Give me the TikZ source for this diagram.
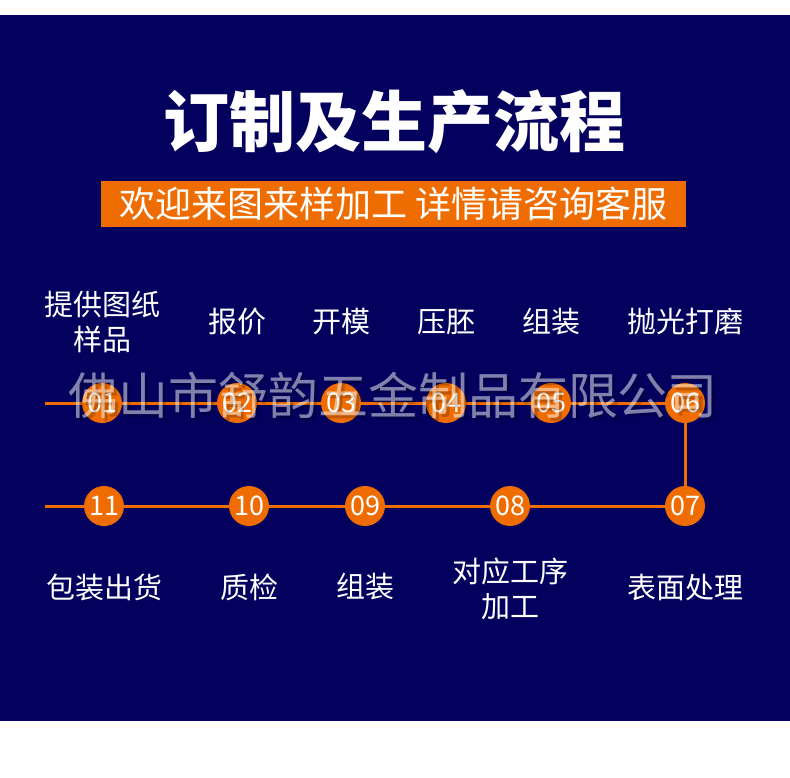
\documentclass[tikz,border=0pt]{standalone}
\usepackage{fontspec}
\setmainfont{Noto Sans CJK SC}
\usetikzlibrary{positioning, backgrounds}
\definecolor{Navy}{HTML}{03005E}
\definecolor{Orange}{HTML}{EF6C00}
\tikzset{
    numdot/.style={circle, fill=Orange, text=white, minimum size=40pt, inner sep=0pt, font=\fontsize{27}{27}\selectfont},
    steplabel/.style={text=white, align=center, font=\fontsize{29}{35}\selectfont},
    flowline/.style={Orange, line width=3pt},
    banner/.style={fill=Orange, text=white, minimum width=585pt, minimum height=46pt, inner sep=0pt, font=\fontsize{36}{36}\selectfont},
}

\begin{document}
\begin{tikzpicture}[x=1pt, y=-1pt]
    \useasboundingbox (0,0) rectangle (790,777);

    % Titolo e banner
    \node[text=white, font=\bfseries\fontsize{66}{70}\selectfont] (title) at (394,122) {订制及生产流程};
    \node[banner] (slogan) at (393.5,204) {欢迎来图来样加工 详情请咨询客服};

    % Cerchi numerati
    \foreach \n/\x/\y in {01/102/403, 02/237/403, 03/341/403, 04/446/403, 05/551/403, 06/685/403,
                          07/685/506, 08/510/506, 09/365/506, 10/249/506, 11/104/506}
        \node[numdot] (c\n) at (\x,\y) {\n};

    % Etichette dei passi
    \foreach \n/\x/\y/\t in {01/102/322/{提供图纸\\样品}, 02/237/322/报价, 03/341/322/开模, 04/446/322/压胚,
                             05/551/322/组装, 06/685/322/抛光打磨, 07/685/587/表面处理,
                             08/510/589/{对应工序\\加工}, 09/365/587/组装, 10/249/587/质检, 11/104/587/包装出货}
        \node[steplabel] (l\n) at (\x,\y) {\t};

    \coordinate (s1) at (45,403);
    \coordinate (s2) at (45,506);

    % Sfondo e linea del flusso
    \begin{pgfonlayer}{background}
        \fill[white] (0,0) rectangle (790,777);
        \fill[Navy] (0,15) rectangle (790,721);
        \draw[flowline] (s1) -- (c06.center) -- (c07.center) -- (s2);
    \end{pgfonlayer}

    % Filigrana
    \node[text=black, opacity=0.2, font=\fontsize{50}{50}\selectfont] (markshadow) at (396,398) {佛山市舒韵五金制品有限公司};
    \node[text=white, opacity=0.5, font=\fontsize{50}{50}\selectfont] (mark) at (393,395) {佛山市舒韵五金制品有限公司};
\end{tikzpicture}
\end{document}
